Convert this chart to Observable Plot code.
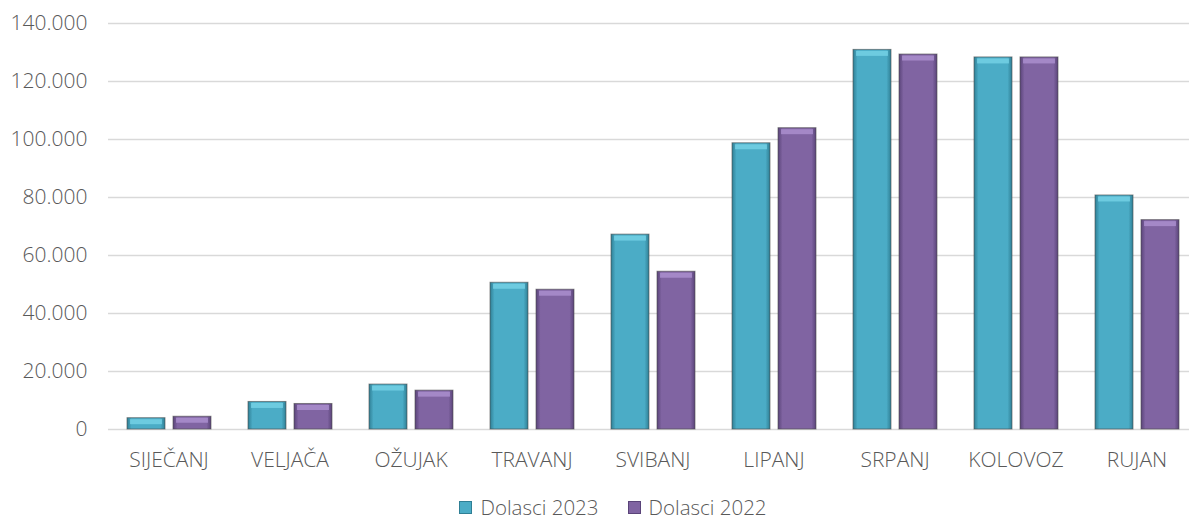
<!DOCTYPE html>
<html><head><meta charset="utf-8">
<script src="https://cdn.jsdelivr.net/npm/d3@7"></script>
<script src="https://cdn.jsdelivr.net/npm/@observablehq/plot@0.6"></script>
<style>
body{margin:0;background:#fff;font-family:"Open Sans",Lato,sans-serif;font-weight:300;overflow:hidden;}
#legend{display:flex;justify-content:center;align-items:center;font-size:20.5px;line-height:20px;height:20px;color:#595959;margin-top:15px;padding-left:66px;}
.item{display:flex;align-items:center;margin-right:29px;}
.sw{width:13px;height:13px;margin-right:8px;box-sizing:border-box;}
svg{display:block;}
svg text{font-weight:300;}
</style></head><body>
<div id="chart"></div>
<div id="legend"></div>
<script>
const months = ["SIJEČANJ","VELJAČA","OŽUJAK","TRAVANJ","SVIBANJ","LIPANJ","SRPANJ","KOLOVOZ","RUJAN"];
const series = ["Dolasci 2023","Dolasci 2022"];
const dolasci2023 = [3900, 9500, 15500, 50600, 67200, 98700, 130900, 128300, 80700];
const dolasci2022 = [4400, 8800, 13400, 48200, 54400, 103900, 129300, 128300, 72200];
const yTicks = [0, 20000, 40000, 60000, 80000, 100000, 120000, 140000];
const colors = ["#4BACC6", "#8064A2"];
const edgeColors = ["#2f7f95", "#5a4479"];
const capColors = ["#7fdcee", "#b79bdc"];

const data = months.flatMap((m, i) => [
  {month: m, series: series[0], value: dolasci2023[i]},
  {month: m, series: series[1], value: dolasci2022[i]}
]);
const fmt = d3.formatLocale({decimal: ",", thousands: ".", grouping: [3], currency: ["", "€"]}).format(",");

const chart = Plot.plot({
  width: 1189, height: 482,
  marginLeft: 107, marginRight: -9, marginTop: 23, marginBottom: 53,
  style: {fontFamily: "'Open Sans', Lato, sans-serif", fontSize: "21px", color: "#595959", background: "#fff"},
  fx: {domain: months, padding: 0, label: null, axis: "bottom", tickSize: 0, tickPadding: 23},
  x: {domain: series, paddingInner: 0.174, paddingOuter: 0.402, axis: null},
  y: {domain: [0, 140000], ticks: yTicks, tickFormat: fmt, label: null, tickSize: 0, tickPadding: 21},
  color: {domain: series, range: ["url(#g0)", "url(#g1)"]},
  marks: [
    Plot.ruleY(yTicks, {stroke: "#d9d9d9", strokeWidth: 1.5}),
    Plot.barY(data, {fx: "month", x: "series", y: "value", fill: "series", stroke: "#4a4a4a", strokeOpacity: 0.6, strokeWidth: 1}),
    Plot.tickY(data, {fx: "month", x: "series", y: "value", stroke: d => capColors[series.indexOf(d.series)], strokeWidth: 5, dy: 3.5, insetLeft: 3, insetRight: 3, strokeOpacity: 0.65})
  ]
});

const defs = d3.select(chart).insert("defs", ":first-child");
colors.forEach((c, i) => {
  const g = defs.append("linearGradient").attr("id", "g" + i).attr("x1", 0).attr("x2", 1).attr("y1", 0).attr("y2", 0);
  g.append("stop").attr("offset", "0%").attr("stop-color", edgeColors[i]);
  g.append("stop").attr("offset", "12%").attr("stop-color", c);
  g.append("stop").attr("offset", "88%").attr("stop-color", c);
  g.append("stop").attr("offset", "100%").attr("stop-color", edgeColors[i]);
});
document.getElementById("chart").appendChild(chart);

const legend = d3.select("#legend");
series.forEach((s, i) => {
  const it = legend.append("div").attr("class", "item");
  it.append("div").attr("class", "sw").style("background", colors[i]).style("border", "1px solid " + edgeColors[i]);
  it.append("span").text(s);
});
</script>
</body></html>
